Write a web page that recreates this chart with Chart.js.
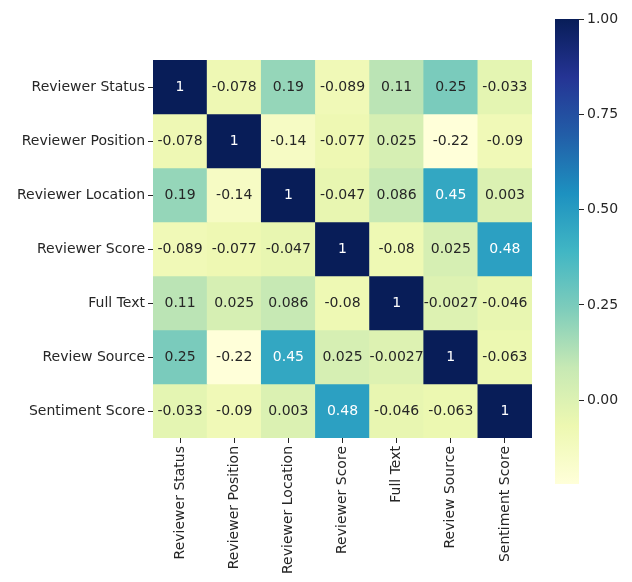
<!DOCTYPE html>
<html>
<head>
<meta charset="utf-8">
<script src="https://cdn.jsdelivr.net/npm/chart.js@4.4.1/dist/chart.umd.min.js"></script>
<style>
  body { margin: 0; background: #fff; }
  #heat-box { position: absolute; left: 0; top: 0; width: 540px; height: 582px; }
  #bar-box { position: absolute; left: 540px; top: 0; width: 92px; height: 582px; }
</style>
</head>
<body>
<div id="heat-box"><canvas id="heat"></canvas></div>
<div id="bar-box"><canvas id="cbar"></canvas></div>
<script>
const features = ["Reviewer Status", "Reviewer Position", "Reviewer Location", "Reviewer Score", "Full Text", "Review Source", "Sentiment Score"];

// one array per row of the correlation matrix
const reviewerStatus   = [1, -0.078, 0.19, -0.089, 0.11, 0.25, -0.033];
const reviewerPosition = [-0.078, 1, -0.14, -0.077, 0.025, -0.22, -0.09];
const reviewerLocation = [0.19, -0.14, 1, -0.047, 0.086, 0.45, 0.003];
const reviewerScore    = [-0.089, -0.077, -0.047, 1, -0.08, 0.025, 0.48];
const fullText         = [0.11, 0.025, 0.086, -0.08, 1, -0.0027, -0.046];
const reviewSource     = [0.25, -0.22, 0.45, 0.025, -0.0027, 1, -0.063];
const sentimentScore   = [-0.033, -0.09, 0.003, 0.48, -0.046, -0.063, 1];

const colorbarTicks = [0, 0.25, 0.5, 0.75, 1];

const rows = [reviewerStatus, reviewerPosition, reviewerLocation, reviewerScore, fullText, reviewSource, sentimentScore];
const vmin = Math.min(...rows.flat());
const vmax = Math.max(...rows.flat());

// YlGnBu
const ylgnbu = ["#ffffd9", "#edf8b1", "#c7e9b4", "#7fcdbb", "#41b6c4", "#1d91c0", "#225ea8", "#253494", "#081d58"];

function hexToRgb(h) {
  return [parseInt(h.slice(1, 3), 16), parseInt(h.slice(3, 5), 16), parseInt(h.slice(5, 7), 16)];
}

function cmap(v) {
  let t = (v - vmin) / (vmax - vmin);
  t = Math.max(0, Math.min(1, t));
  const pos = t * (ylgnbu.length - 1);
  const i = Math.min(Math.floor(pos), ylgnbu.length - 2);
  const f = pos - i;
  const a = hexToRgb(ylgnbu[i]), b = hexToRgb(ylgnbu[i + 1]);
  return [0, 1, 2].map(k => Math.round(a[k] + (b[k] - a[k]) * f));
}

function cssColor(v) {
  const c = cmap(v);
  return `rgb(${c[0]},${c[1]},${c[2]})`;
}

function isDark(v) {
  const c = cmap(v).map(x => {
    x = x / 255;
    return x <= 0.03928 ? x / 12.92 : Math.pow((x + 0.055) / 1.055, 2.4);
  });
  return 0.2126 * c[0] + 0.7152 * c[1] + 0.0722 * c[2] < 0.408;
}

function fmt(v) {
  return String(Number(v.toPrecision(2)));
}

Chart.defaults.font.family = "'DejaVu Sans', sans-serif";
Chart.defaults.font.size = 14;
Chart.defaults.color = "#262626";

const cellLabels = {
  id: "cellLabels",
  afterDatasetsDraw(chart) {
    const ctx = chart.ctx;
    ctx.save();
    ctx.font = "14px 'DejaVu Sans', sans-serif";
    ctx.textAlign = "center";
    ctx.textBaseline = "middle";
    chart.data.datasets.forEach((ds, r) => {
      const meta = chart.getDatasetMeta(r);
      meta.data.forEach((el, c) => {
        const v = rows[r][c];
        ctx.fillStyle = isDark(v) ? "#ffffff" : "#262626";
        ctx.fillText(fmt(v), el.x, (el.y + el.base) / 2);
      });
    });
    ctx.restore();
  }
};

new Chart(document.getElementById("heat"), {
  type: "bar",
  data: {
    labels: features,
    datasets: rows.map((row, r) => ({
      label: features[r],
      data: row.map(() => [r, r + 1]),
      backgroundColor: row.map(cssColor),
      borderWidth: 0,
      borderSkipped: false,
      barPercentage: 1,
      categoryPercentage: 1,
      grouped: false
    }))
  },
  options: {
    responsive: true,
    maintainAspectRatio: false,
    animation: false,
    layout: { padding: { top: 60, right: 8, left: 0, bottom: 0 } },
    plugins: { legend: { display: false }, tooltip: { enabled: false } },
    scales: {
      x: {
        grid: { offset: false, drawOnChartArea: false, drawTicks: true, tickLength: 5, color: "#262626" },
        border: { display: false },
        ticks: { minRotation: 90, maxRotation: 90, padding: 3, autoSkip: false },
        afterFit(scale) { scale.height = 144; }
      },
      y: {
        type: "linear",
        min: 0,
        max: 7,
        reverse: true,
        grid: { drawOnChartArea: false, drawTicks: true, tickLength: 5, color: "#262626" },
        border: { display: false },
        afterBuildTicks(scale) { scale.ticks = features.map((_, i) => ({ value: i + 0.5 })); },
        ticks: {
          padding: 3,
          autoSkip: false,
          callback(value) { return features[Math.floor(value)]; }
        },
        afterFit(scale) { scale.width = 153; }
      }
    }
  },
  plugins: [cellLabels]
});

new Chart(document.getElementById("cbar"), {
  type: "bar",
  data: {
    labels: ["scale"],
    datasets: [{
      data: [[vmin, vmax]],
      borderWidth: 0,
      borderSkipped: false,
      barPercentage: 1,
      categoryPercentage: 1,
      backgroundColor(context) {
        const { chart } = context;
        if (!chart.chartArea) return ylgnbu[4];
        const y = chart.scales.y;
        const top = y.getPixelForValue(vmax), bottom = y.getPixelForValue(vmin);
        const g = chart.ctx.createLinearGradient(0, bottom, 0, top);
        ylgnbu.forEach((c, i) => g.addColorStop(i / (ylgnbu.length - 1), c));
        return g;
      }
    }]
  },
  options: {
    responsive: true,
    maintainAspectRatio: false,
    animation: false,
    layout: { padding: { top: 19, bottom: 98, left: 15, right: 0 } },
    plugins: { legend: { display: false }, tooltip: { enabled: false } },
    scales: {
      x: { display: false },
      y: {
        position: "right",
        min: vmin,
        max: vmax,
        grid: { drawOnChartArea: false, drawTicks: true, tickLength: 5, color: "#262626" },
        border: { display: false },
        afterBuildTicks(scale) { scale.ticks = colorbarTicks.map(v => ({ value: v })); },
        ticks: { padding: 3, callback(value) { return value.toFixed(2); } },
        afterFit(scale) { scale.width = 53; }
      }
    }
  }
});
</script>
</body>
</html>
